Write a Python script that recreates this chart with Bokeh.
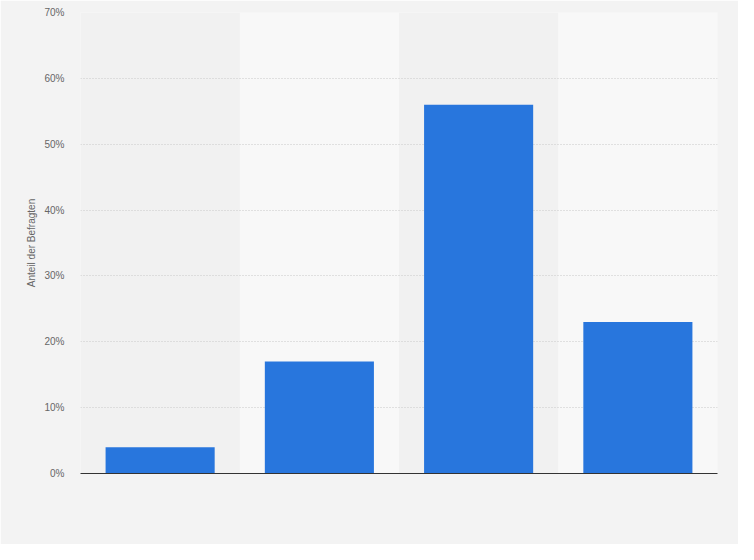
from bokeh.plotting import figure
from bokeh.models import FactorRange, Range1d, FixedTicker, PrintfTickFormatter, ColumnDataSource
from bokeh.embed import file_html
from bokeh.resources import INLINE

# Data (category labels are not shown in the reference)
categories = ["Kategorie 1", "Kategorie 2", "Kategorie 3", "Kategorie 4"]
shares = [4, 17, 56, 23]
y_ticks = [0, 10, 20, 30, 40, 50, 60, 70]
y_label = "Anteil der Befragten"

band_colors = ["#f1f1f1", "#f8f8f8", "#f1f1f1", "#f8f8f8"]

p = figure(
    width=738, height=544,
    x_range=FactorRange(factors=categories, range_padding=0),
    y_range=Range1d(0, 70),
    output_backend="svg", toolbar_location=None,
    min_border_left=80, min_border_right=21, min_border_top=12, min_border_bottom=71,
)
p.background_fill_color = "#f3f3f3"
p.border_fill_color = "#f3f3f3"
p.outline_line_color = None

band_src = ColumnDataSource(dict(x=categories, top=[max(y_ticks)] * len(categories), color=band_colors))
p.vbar(x="x", top="top", bottom=0, width=1.0, fill_color="color", line_color=None, source=band_src, level="underlay")

bar_src = ColumnDataSource(dict(x=categories, top=shares))
p.vbar(x="x", top="top", bottom=0, width=0.685, fill_color="#2876dd", line_color=None, source=bar_src)

# y axis
p.yaxis.ticker = FixedTicker(ticks=y_ticks)
p.yaxis.formatter = PrintfTickFormatter(format="%d%%")
p.yaxis.axis_line_color = None
p.yaxis.major_tick_line_color = None
p.yaxis.minor_tick_line_color = None
p.yaxis.major_tick_out = 0
p.yaxis.major_label_standoff = 16
p.yaxis.major_label_text_font = "Liberation Sans"
p.yaxis.major_label_text_font_size = "10px"
p.yaxis.major_label_text_color = "#666666"
p.yaxis.axis_label = y_label
p.yaxis.axis_label_text_font = "Liberation Sans"
p.yaxis.axis_label_text_font_size = "10px"
p.yaxis.axis_label_text_font_style = "normal"
p.yaxis.axis_label_text_color = "#666666"
p.yaxis.axis_label_standoff = 4

# x axis
p.xaxis.axis_line_color = "#333333"
p.xaxis.axis_line_width = 1.2
p.xaxis.major_tick_line_color = None
p.xaxis.minor_tick_line_color = None
p.xaxis.major_tick_out = 0
p.xaxis.major_label_text_font_size = "0px"
p.xaxis.major_label_text_color = None

# grids
p.xgrid.grid_line_color = None
p.ygrid.grid_line_color = "#c8c8c8"
p.ygrid.grid_line_dash = "1 2"
p.ygrid.grid_line_width = 1

open("out.html", "w").write(file_html(p, INLINE))
